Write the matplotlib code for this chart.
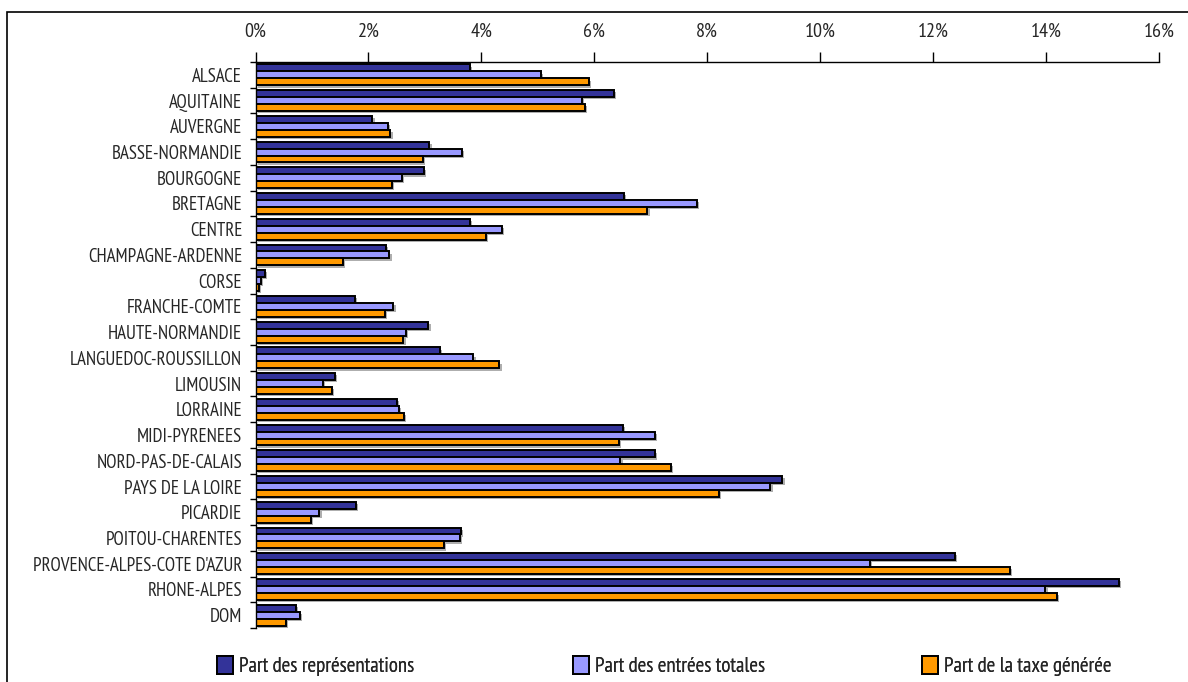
import matplotlib
matplotlib.use("Agg")
import matplotlib.pyplot as plt
import matplotlib.patheffects as pe
from matplotlib.patches import Patch, Rectangle
import numpy as np

regions = ["ALSACE", "AQUITAINE", "AUVERGNE", "BASSE-NORMANDIE", "BOURGOGNE",
           "BRETAGNE", "CENTRE", "CHAMPAGNE-ARDENNE", "CORSE", "FRANCHE-COMTE",
           "HAUTE-NORMANDIE", "LANGUEDOC-ROUSSILLON", "LIMOUSIN", "LORRAINE",
           "MIDI-PYRENEES", "NORD-PAS-DE-CALAIS", "PAYS DE LA LOIRE", "PICARDIE",
           "POITOU-CHARENTES", "PROVENCE-ALPES-COTE D'AZUR", "RHONE-ALPES", "DOM"]
part_representations = [3.80, 6.35, 2.07, 3.08, 2.98, 6.53, 3.80, 2.31, 0.17, 1.76, 3.06,
                        3.27, 1.40, 2.50, 6.51, 7.07, 9.33, 1.78, 3.64, 12.39, 15.29, 0.71]
part_entrees = [5.05, 5.78, 2.34, 3.66, 2.59, 7.82, 4.36, 2.37, 0.09, 2.44, 2.67,
                3.86, 1.19, 2.54, 7.07, 6.46, 9.12, 1.13, 3.62, 10.88, 13.99, 0.78]
part_taxe = [5.91, 5.83, 2.39, 2.96, 2.42, 6.94, 4.08, 1.55, 0.06, 2.29, 2.62,
             4.32, 1.35, 2.63, 6.44, 7.35, 8.20, 0.98, 3.34, 13.36, 14.19, 0.54]
series_names = ["Part des représentations", "Part des entrées totales", "Part de la taxe générée"]
series_colors = ["#333399", "#9999FF", "#FF9900"]
xticks = [0, 2, 4, 6, 8, 10, 12, 14, 16]

plt.rcParams['font.family'] = ['PT Sans Narrow', 'DejaVu Sans']
txt_color = "#262626"

fig = plt.figure(figsize=(11.88, 6.82), dpi=100)
fig.patch.set_facecolor("white")
# outer frame of the chart area
fig.add_artist(Rectangle((7/1188, -0.1), 1.5, 1 - 12/682 + 0.1, transform=fig.transFigure,
                         fill=False, edgecolor="black", linewidth=1.2))

ax = fig.add_axes([255.5/1188, 1 - 628/682, (1159 - 255.5)/1188, (628 - 62)/682])
n = len(regions)
y = np.arange(n)
h = 0.27
shadow = [pe.SimplePatchShadow(offset=(1.6, -1.6), shadow_rgbFace="#9a9a9a", alpha=0.8), pe.Normal()]
for i, (vals, col) in enumerate(zip([part_representations, part_entrees, part_taxe], series_colors)):
    bars = ax.barh(y + (i - 1) * h, vals, height=h, color=col, edgecolor="black", linewidth=1.4)
    for b in bars:
        b.set_path_effects(shadow)

ax.set_xlim(0, 16)
ax.set_ylim(n - 0.5, -0.5)
ax.xaxis.tick_top()
ax.set_xticks(xticks)
ax.set_xticklabels([f"{t}%" for t in xticks])
ax.tick_params(axis="x", direction="out", length=7, width=1, pad=8, labelsize=14.5,
               colors="black", labelcolor=txt_color)
ax.set_yticks(np.arange(n + 1) - 0.5)
ax.set_yticklabels([])
ax.set_yticks(y, minor=True)
ax.set_yticklabels(regions, minor=True)
ax.tick_params(axis="y", which="major", direction="out", length=4, width=1)
ax.tick_params(axis="y", which="minor", length=0, pad=9.6, labelsize=13.6, labelcolor=txt_color)
for s in ["right", "bottom"]:
    ax.spines[s].set_visible(False)
ax.spines["top"].set_linewidth(1)
ax.spines["left"].set_linewidth(1)

handles = [Patch(facecolor=c, edgecolor="black", linewidth=1.4) for c in series_colors]
legend_x = [217, 573, 922]
for hd, name, lx in zip(handles, series_names, legend_x):
    lg = fig.legend([hd], [name], loc="center left", bbox_to_anchor=(lx/1188, 1 - 666/682),
                    frameon=False, fontsize=15, handlelength=0.75, handleheight=0.95,
                    handletextpad=0.3, borderpad=0, borderaxespad=0)
    for t in lg.get_texts():
        t.set_color(txt_color)
    fig.add_artist(lg)

fig.savefig("out.png", dpi=100)
